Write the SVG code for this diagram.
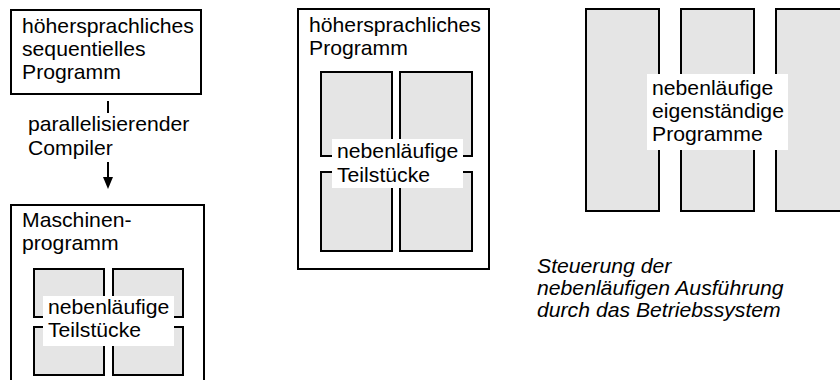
<svg xmlns="http://www.w3.org/2000/svg" width="840" height="380" viewBox="0 0 840 380">
  <style>
    .frame { fill: #ffffff; stroke: #000000; stroke-width: 2; }
    .part { fill: #e5e5e5; stroke: #000000; stroke-width: 2; }
    .mask { fill: #ffffff; stroke: none; }
    .lbl { font-family: "Liberation Sans", Arial, Helvetica, sans-serif; font-size: 20px; fill: #000000; }
    .note { font-family: "Liberation Sans", Arial, Helvetica, sans-serif; font-size: 20px; font-style: italic; fill: #000000; }
    .conn { stroke: #000000; stroke-width: 2; fill: none; }
    .head { fill: #000000; stroke: none; }
  </style>
  <rect width="840" height="380" fill="#ffffff"/>

  <!-- source program -->
  <g id="sequential-program">
    <rect class="frame" x="11" y="10" width="190" height="84"/>
    <g transform="translate(22,0) scale(1.06,1)">
      <text class="lbl" x="0" y="33">höhersprachliches</text>
      <text class="lbl" x="0" y="56">sequentielles</text>
      <text class="lbl" x="0" y="79">Programm</text>
    </g>
  </g>

  <!-- compiler step -->
  <g id="connectors">
    <line class="conn" x1="108" y1="101" x2="108" y2="113"/>
    <g transform="translate(28,0) scale(1.06,1)">
      <text class="lbl" x="0" y="131">parallelisierender</text>
      <text class="lbl" x="0" y="155">Compiler</text>
    </g>
    <line class="conn" x1="108" y1="162" x2="108" y2="178"/>
    <polygon class="head" points="103,177 113,177 108,189"/>
  </g>

  <!-- machine program with concurrent parts -->
  <g id="machine-program">
    <rect class="frame" x="11" y="205" width="193" height="190"/>
    <g transform="translate(22,0) scale(1.06,1)">
      <text class="lbl" x="0" y="227">Maschinen-</text>
      <text class="lbl" x="0" y="250">programm</text>
    </g>
    <rect class="part" x="34" y="269" width="70" height="48"/>
    <rect class="part" x="113" y="269" width="70" height="48"/>
    <rect class="part" x="34" y="327" width="70" height="48"/>
    <rect class="part" x="113" y="327" width="70" height="48"/>
    <rect class="mask" x="43" y="296" width="131" height="50"/>
    <g transform="translate(48,0) scale(1.06,1)">
      <text class="lbl" x="0" y="314">nebenläufige</text>
      <text class="lbl" x="0" y="337">Teilstücke</text>
    </g>
  </g>

  <!-- high-level program with concurrent parts -->
  <g id="parallel-program">
    <rect class="frame" x="298" y="9" width="191" height="260"/>
    <g transform="translate(309,0) scale(1.06,1)">
      <text class="lbl" x="0" y="32">höhersprachliches</text>
      <text class="lbl" x="0" y="55">Programm</text>
    </g>
    <rect class="part" x="321" y="72" width="71" height="84"/>
    <rect class="part" x="400" y="72" width="72" height="84"/>
    <rect class="part" x="321" y="172" width="71" height="79"/>
    <rect class="part" x="400" y="172" width="72" height="79"/>
    <rect class="mask" x="332" y="139" width="131" height="49"/>
    <g transform="translate(337,0) scale(1.06,1)">
      <text class="lbl" x="0" y="158">nebenläufige</text>
      <text class="lbl" x="0" y="182">Teilstücke</text>
    </g>
  </g>

  <!-- independent concurrent programs -->
  <g id="independent-programs">
    <rect class="part" x="586" y="9" width="73" height="202"/>
    <rect class="part" x="681" y="9" width="73" height="202"/>
    <rect class="part" x="776" y="9" width="80" height="202"/>
    <rect class="mask" x="647" y="74" width="141" height="76"/>
    <g transform="translate(652,0) scale(1.06,1)">
      <text class="lbl" x="0" y="95">nebenläufige</text>
      <text class="lbl" x="0" y="118">eigenständige</text>
      <text class="lbl" x="0" y="141">Programme</text>
    </g>
  </g>

  <!-- operating system note -->
  <g id="os-note">
    <g transform="translate(537,0) scale(1.06,1)">
      <text class="note" x="0" y="273">Steuerung der</text>
      <text class="note" x="0" y="295">nebenläufigen Ausführung</text>
      <text class="note" x="0" y="317">durch das Betriebssystem</text>
    </g>
  </g>
</svg>
